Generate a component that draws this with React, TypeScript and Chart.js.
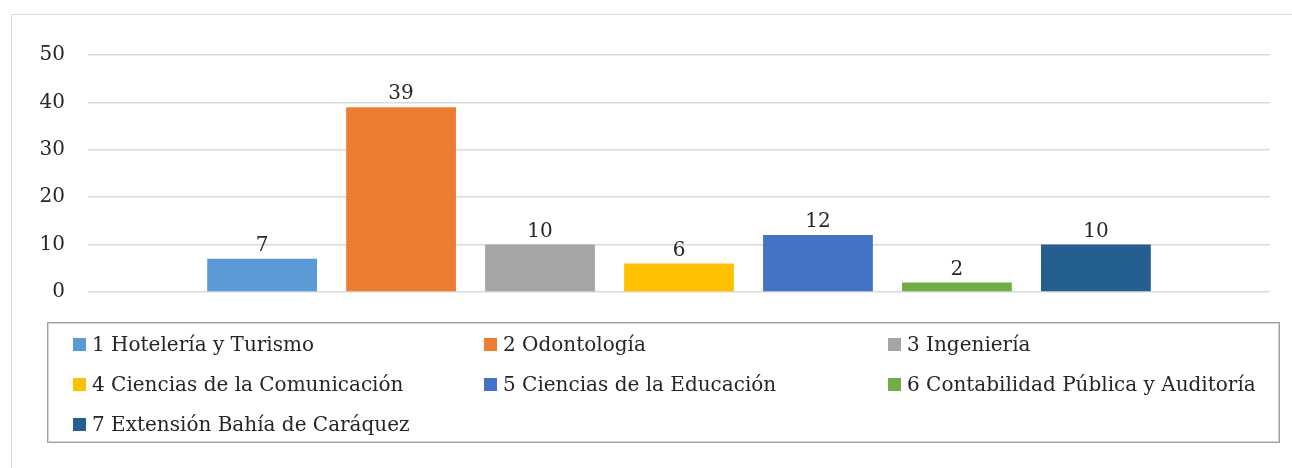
import React, { useEffect, useRef } from "react";
import { Chart, registerables } from "chart.js";

Chart.register(...registerables);

const categories = ["Facultad"];
const seriesLabels = [
  "1 Hotelería y Turismo",
  "2 Odontología",
  "3 Ingeniería",
  "4 Ciencias de la Comunicación",
  "5 Ciencias de la Educación",
  "6 Contabilidad Pública y Auditoría",
  "7 Extensión Bahía de Caráquez",
];
const seriesValues = [7, 39, 10, 6, 12, 2, 10];
const seriesColors = ["#5B9BD5", "#ED7D31", "#A5A5A5", "#FFC000", "#4472C4", "#70AD47", "#255E91"];
const yTicks = [0, 10, 20, 30, 40, 50];

const FONT = "'DejaVu Serif', serif";
const TEXT = "#262626";
const FS = 20;

const valueLabels = {
  id: "valueLabels",
  afterDatasetsDraw(chart: any) {
    const ctx = chart.ctx;
    ctx.save();
    ctx.font = `${FS}px ${FONT}`;
    ctx.fillStyle = TEXT;
    ctx.textAlign = "center";
    ctx.textBaseline = "bottom";
    chart.data.datasets.forEach((ds: any, i: number) => {
      const meta = chart.getDatasetMeta(i);
      meta.data.forEach((bar: any, j: number) => {
        ctx.fillText(String(ds.data[j]), bar.x, bar.y - 3);
      });
    });
    ctx.restore();
  },
};

export default function App() {
  const ref = useRef<HTMLCanvasElement>(null);
  useEffect(() => {
    if (!ref.current) return;
    const chart = new Chart(ref.current, {
      type: "bar",
      data: {
        labels: categories,
        datasets: seriesLabels.map((label, i) => ({
          label,
          data: [seriesValues[i]],
          backgroundColor: seriesColors[i],
          borderWidth: 0,
          categoryPercentage: 0.823,
          barPercentage: 0.79,
        })),
      },
      options: {
        animation: false,
        responsive: false,
        maintainAspectRatio: false,
        layout: { padding: { left: 0, right: 22, top: 55, bottom: 3 } },
        plugins: { legend: { display: false }, tooltip: { enabled: false } },
        scales: {
          x: { display: false },
          y: {
            min: 0,
            max: 50,
            afterBuildTicks: (s: any) => {
              s.ticks = yTicks.map((v) => ({ value: v }));
            },
            afterFit: (s: any) => {
              s.width = 88;
            },
            border: { display: false },
            grid: { color: "#d9d9d9", lineWidth: 1.5, drawTicks: false },
            ticks: { color: TEXT, font: { family: FONT, size: FS }, padding: 23 },
          },
        },
      },
      plugins: [valueLabels],
    });
    return () => chart.destroy();
  }, []);

  const colLeft = [73, 484, 888];
  return (
    <div style={{ position: "absolute", left: 0, top: 0, width: 1292, height: 468, overflow: "hidden", background: "#fff" }}>
      <div style={{ position: "absolute", left: 11, top: 14, width: 1400, height: 600, border: "1px solid #d9d9d9" }} />
      <canvas ref={ref} width={1292} height={327} style={{ position: "absolute", left: 0, top: 0, width: 1292, height: 327 }} />
      <div
        style={{
          position: "absolute",
          left: 47,
          top: 322,
          width: 1231,
          height: 119,
          border: "1px solid #a0a0a0",
          boxShadow: "inset 0 0 0 1px #d4d4d4",
        }}
      />
      {seriesLabels.map((label, i) => {
        const row = Math.floor(i / 3);
        const col = i % 3;
        return (
          <div
            key={label}
            style={{
              position: "absolute",
              left: colLeft[col],
              top: 344 + row * 40 - 14,
              height: 28,
              display: "flex",
              alignItems: "center",
              fontFamily: FONT,
              fontSize: FS,
              color: TEXT,
              whiteSpace: "nowrap",
            }}
          >
            <span style={{ display: "inline-block", width: 13, height: 13, background: seriesColors[i], marginRight: 6 }} />
            <span>{label}</span>
          </div>
        );
      })}
    </div>
  );
}
